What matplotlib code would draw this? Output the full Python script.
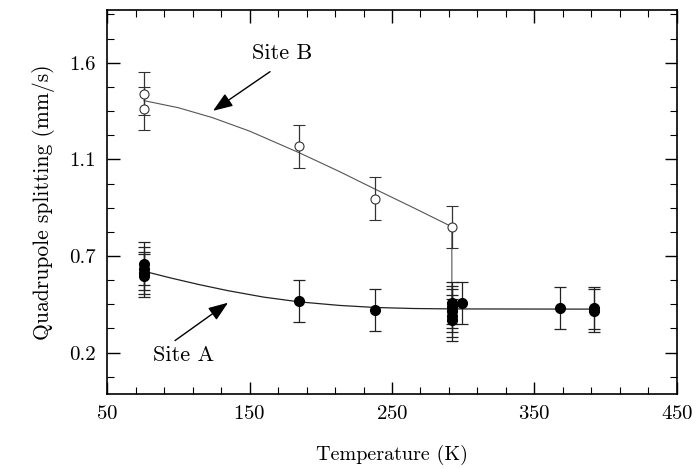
import matplotlib
matplotlib.use("Agg")
import matplotlib.pyplot as plt

plt.rcParams['font.family'] = ['cmr10', 'DejaVu Serif']
plt.rcParams['mathtext.fontset'] = 'cm'
plt.rcParams['axes.formatter.use_mathtext'] = True

# Site B (open circles)
temp_b = [76, 76, 184.7, 238, 292]
qs_b = [1.451, 1.378, 1.196, 0.944, 0.807]
err_b = [0.105, 0.105, 0.104, 0.103, 0.102]

# Site A (filled circles)
temp_a = [76, 76, 76, 76, 184.7, 238, 292, 292, 292, 292, 292, 299, 368, 392, 392]
qs_a = [0.630, 0.606, 0.586, 0.572, 0.448, 0.407, 0.441, 0.422, 0.403,
        0.378, 0.359, 0.439, 0.416, 0.415, 0.403]
err_a = [0.102] * len(temp_a)

# fitted curves
fit_b_t = [76, 100, 124, 150, 185, 213, 238, 265, 292, 292]
fit_b_q = [1.417, 1.383, 1.335, 1.27, 1.165, 1.075, 0.99, 0.90, 0.808, 0.410]
fit_a_t = [76, 95, 115, 135, 160, 185, 213, 238, 265, 292, 392]
fit_a_q = [0.593, 0.560, 0.528, 0.499, 0.468, 0.445, 0.428, 0.418, 0.413, 0.411, 0.410]

ytick_pos = [0.2, 0.2 + 1.4 / 3, 0.2 + 2.8 / 3, 1.6]
ytick_lab = ['0.2', '0.7', '1.1', '1.6']
xticks = [50, 150, 250, 350, 450]

fig = plt.figure(figsize=(6.99, 4.69), dpi=100)
ax = fig.add_axes([0.1531, 0.1599, 0.8154, 0.8188])

ax.plot(fit_b_t, fit_b_q, color='#555555', lw=0.8)
ax.plot(fit_a_t, fit_a_q, color='#222222', lw=0.9)

ax.errorbar(temp_b, qs_b, yerr=err_b, fmt='o', mfc='white', mec='#333333',
            ms=6.5, mew=0.8, ecolor='#333333', elinewidth=0.9, capsize=4, capthick=0.9)
ax.errorbar(temp_a, qs_a, yerr=err_a, fmt='o', mfc='black', mec='black',
            ms=7, ecolor='#222222', elinewidth=0.9, capsize=4, capthick=0.9)

arrow = dict(arrowstyle='-|>,head_length=1.2,head_width=0.45',
             color='black', lw=1.0, shrinkA=0, shrinkB=0)
ax.text(172.8, 1.644, 'Site B', fontsize=16, ha='center', va='center')
ax.annotate('', xy=(124.4, 1.368), xytext=(164.4, 1.557), arrowprops=arrow)
ax.text(104, 0.185, 'Site A', fontsize=16, ha='center', va='center')
ax.annotate('', xy=(134.9, 0.441), xytext=(97.7, 0.258), arrowprops=arrow)

ax.set_xlim(50, 450)
ax.set_ylim(0.0, 1.855)
ax.set_xticks(xticks)
ax.set_xticks(range(50, 451, 20), minor=True)
ax.set_yticks(ytick_pos)
ax.set_yticklabels(ytick_lab)
ax.set_yticks([0.2 + i * 1.4 / 12 for i in range(-1, 15)], minor=True)
ax.tick_params(which='both', direction='in', top=True, right=True, labelsize=15, pad=8)
ax.tick_params(which='major', length=9, width=1.0)
ax.tick_params(which='minor', length=5, width=0.8)
for s in ax.spines.values():
    s.set_linewidth(1.2)

ax.set_xlabel('Temperature (K)', fontsize=14.5, labelpad=16)
ax.set_ylabel('Quadrupole splitting (mm/s)', fontsize=15.5, labelpad=10)

fig.savefig('out.png', dpi=100)
